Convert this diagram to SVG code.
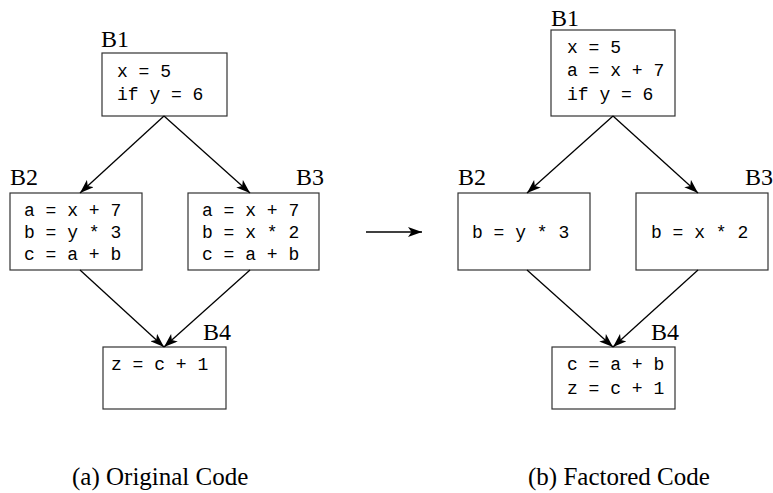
<svg xmlns="http://www.w3.org/2000/svg" width="773" height="493" viewBox="0 0 773 493">
  <style>
    .box { fill: #ffffff; stroke: #333333; stroke-width: 1.2; }
    .code { font-family: "Liberation Mono", "Courier New", monospace; font-size: 18px; fill: #000000; white-space: pre; }
    .lbl { font-family: "Liberation Serif", "Times New Roman", serif; font-size: 24px; fill: #000000; }
    .cap { font-family: "Liberation Serif", "Times New Roman", serif; font-size: 25px; fill: #000000; }
    .edge { fill: none; stroke: #000000; stroke-width: 1.3; marker-end: url(#head); }
  </style>
  <defs>
    <marker id="head" viewBox="0 0 14 10" refX="14" refY="5" markerWidth="14" markerHeight="10" markerUnits="userSpaceOnUse" orient="auto">
      <path d="M0,0 L14,5 L0,10 L3.5,5 z" fill="#000000"/>
    </marker>
  </defs>

  <!-- (a) original code -->
  <g id="a-B1">
    <rect class="box" x="102" y="53" width="125" height="63"/>
    <text class="lbl" x="101" y="47">B1</text>
    <text class="code" x="117" y="77">x = 5</text>
    <text class="code" x="117" y="100">if y = 6</text>
  </g>
  <g id="a-B2">
    <rect class="box" x="10" y="193" width="132" height="77"/>
    <text class="lbl" x="10" y="185">B2</text>
    <text class="code" x="24" y="216">a = x + 7</text>
    <text class="code" x="24" y="238">b = y * 3</text>
    <text class="code" x="24" y="260">c = a + b</text>
  </g>
  <g id="a-B3">
    <rect class="box" x="188" y="193" width="131" height="77"/>
    <text class="lbl" x="296" y="185">B3</text>
    <text class="code" x="202" y="216">a = x + 7</text>
    <text class="code" x="202" y="238">b = x * 2</text>
    <text class="code" x="202" y="260">c = a + b</text>
  </g>
  <g id="a-B4">
    <rect class="box" x="103" y="347" width="123" height="62"/>
    <text class="lbl" x="203" y="340">B4</text>
    <text class="code" x="111" y="370">z = c + 1</text>
  </g>

  <!-- (b) factored code -->
  <g id="b-B1">
    <rect class="box" x="551" y="30" width="124" height="86"/>
    <text class="lbl" x="551" y="26">B1</text>
    <text class="code" x="567" y="53">x = 5</text>
    <text class="code" x="567" y="76">a = x + 7</text>
    <text class="code" x="567" y="100">if y = 6</text>
  </g>
  <g id="b-B2">
    <rect class="box" x="458" y="193" width="132" height="77"/>
    <text class="lbl" x="458" y="185">B2</text>
    <text class="code" x="472" y="238">b = y * 3</text>
  </g>
  <g id="b-B3">
    <rect class="box" x="636" y="193" width="132" height="77"/>
    <text class="lbl" x="745" y="185">B3</text>
    <text class="code" x="651" y="238">b = x * 2</text>
  </g>
  <g id="b-B4">
    <rect class="box" x="552" y="347" width="123" height="62"/>
    <text class="lbl" x="651" y="340">B4</text>
    <text class="code" x="567" y="370">c = a + b</text>
    <text class="code" x="567" y="394">z = c + 1</text>
  </g>

  <!-- connectors -->
  <g id="edges">
    <line class="edge" x1="164" y1="116" x2="80" y2="193"/>
    <line class="edge" x1="164" y1="116" x2="250" y2="193"/>
    <line class="edge" x1="80" y1="270" x2="164" y2="347"/>
    <line class="edge" x1="250" y1="270" x2="164" y2="347"/>

    <line class="edge" x1="613" y1="116" x2="527" y2="193"/>
    <line class="edge" x1="613" y1="116" x2="698" y2="193"/>
    <line class="edge" x1="527" y1="270" x2="613" y2="347"/>
    <line class="edge" x1="698" y1="270" x2="613" y2="347"/>

    <line class="edge" x1="366" y1="232" x2="422" y2="232"/>
  </g>

  <!-- captions -->
  <text class="cap" x="72" y="485">(a) Original Code</text>
  <text class="cap" x="528" y="485">(b) Factored Code</text>
</svg>
